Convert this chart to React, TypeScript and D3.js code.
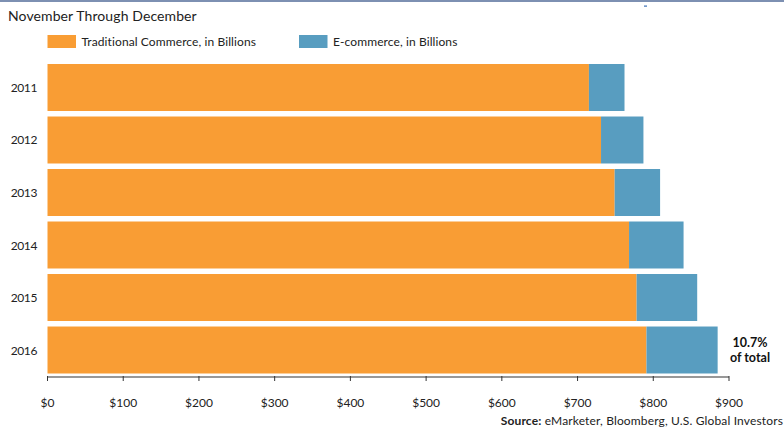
import React from "react";
import * as d3 from "d3";

const years = ["2011", "2012", "2013", "2014", "2015", "2016"];
const traditional = [715, 731, 749, 768, 778, 791];
const ecommerce = [47, 56, 60, 72, 80, 94];
const xTicks = [0, 100, 200, 300, 400, 500, 600, 700, 800, 900];
const seriesNames = ["Traditional Commerce, in Billions", "E-commerce, in Billions"];
const colors = ["#F99D34", "#589DC0"];

const W = 784;
const H = 428;
const FONT = "Lato, 'Open Sans', sans-serif";

export default function App() {
  const x = d3.scaleLinear().domain([0, 900]).range([47.5, 729]);
  const y = d3.scaleBand<string>().domain(years).range([64, 373.5]).paddingInner(0.105).paddingOuter(0);
  const axisY = 377;
  const data = years.map((yr, i) => ({ yr, t: traditional[i], e: ecommerce[i] }));
  const stack = d3.stack<any>().keys(["t", "e"])(data);
  const last = years[years.length - 1];
  const lastMid = (y(last) as number) + y.bandwidth() / 2;

  return (
    <svg width={W} height={H} style={{ position: "absolute", left: 0, top: 0, background: "#fff" }} fontFamily={FONT}>
      <rect x={0} y={0} width={W} height={2} fill="#7d90b2" />
      <rect x={644} y={5.5} width={3} height={1.2} fill="#3b6fb5" />
      <text x={8} y={21} fontSize={14} fill="#222" letterSpacing={0.1}>November Through December</text>
      {seriesNames.map((n, i) => {
        const lx = i === 0 ? 47.5 : 299;
        return (
          <g key={n}>
            <rect x={lx} y={35} width={28.5} height={13} fill={colors[i]} />
            <text x={lx + 34} y={45.5} fontSize={12} fill="#222" letterSpacing={0.1}>{n}</text>
          </g>
        );
      })}
      {stack.map((s, si) => (
        <g key={si} fill={colors[si]}>
          {s.map((d, i) => (
            <rect
              key={i}
              x={x(d[0])}
              y={y(years[i])}
              width={x(d[1]) - x(d[0])}
              height={y.bandwidth()}
            />
          ))}
        </g>
      ))}
      {years.map((yr) => (
        <text
          key={yr}
          x={37}
          y={(y(yr) as number) + y.bandwidth() / 2}
          textAnchor="end"
          dominantBaseline="central"
          fontSize={12}
          letterSpacing={-0.4}
          fill="#222"
        >
          {yr}
        </text>
      ))}
      <line x1={x(0)} x2={x(900)} y1={axisY} y2={axisY} stroke="#333" strokeWidth={1.2} />
      {xTicks.map((t) => (
        <g key={t}>
          <line x1={x(t)} x2={x(t)} y1={axisY - 1} y2={axisY + 4} stroke="#333" strokeWidth={1} />
          <text x={x(t)} y={407} textAnchor="middle" fontSize={12} fill="#222">
            ${t}
          </text>
        </g>
      ))}
      <text x={750} y={lastMid - 8} textAnchor="middle" dominantBaseline="central" fontSize={12.5} fontWeight="bold" fill="#111">
        10.7%
      </text>
      <text x={750} y={lastMid + 7} textAnchor="middle" dominantBaseline="central" fontSize={12.5} fontWeight="bold" fill="#111">
        of total
      </text>
      <text x={783} y={425} textAnchor="end" fontSize={12} fill="#222" letterSpacing={0.15}>
        <tspan fontWeight="bold">Source:</tspan> eMarketer, Bloomberg, U.S. Global Investors
      </text>
    </svg>
  );
}
